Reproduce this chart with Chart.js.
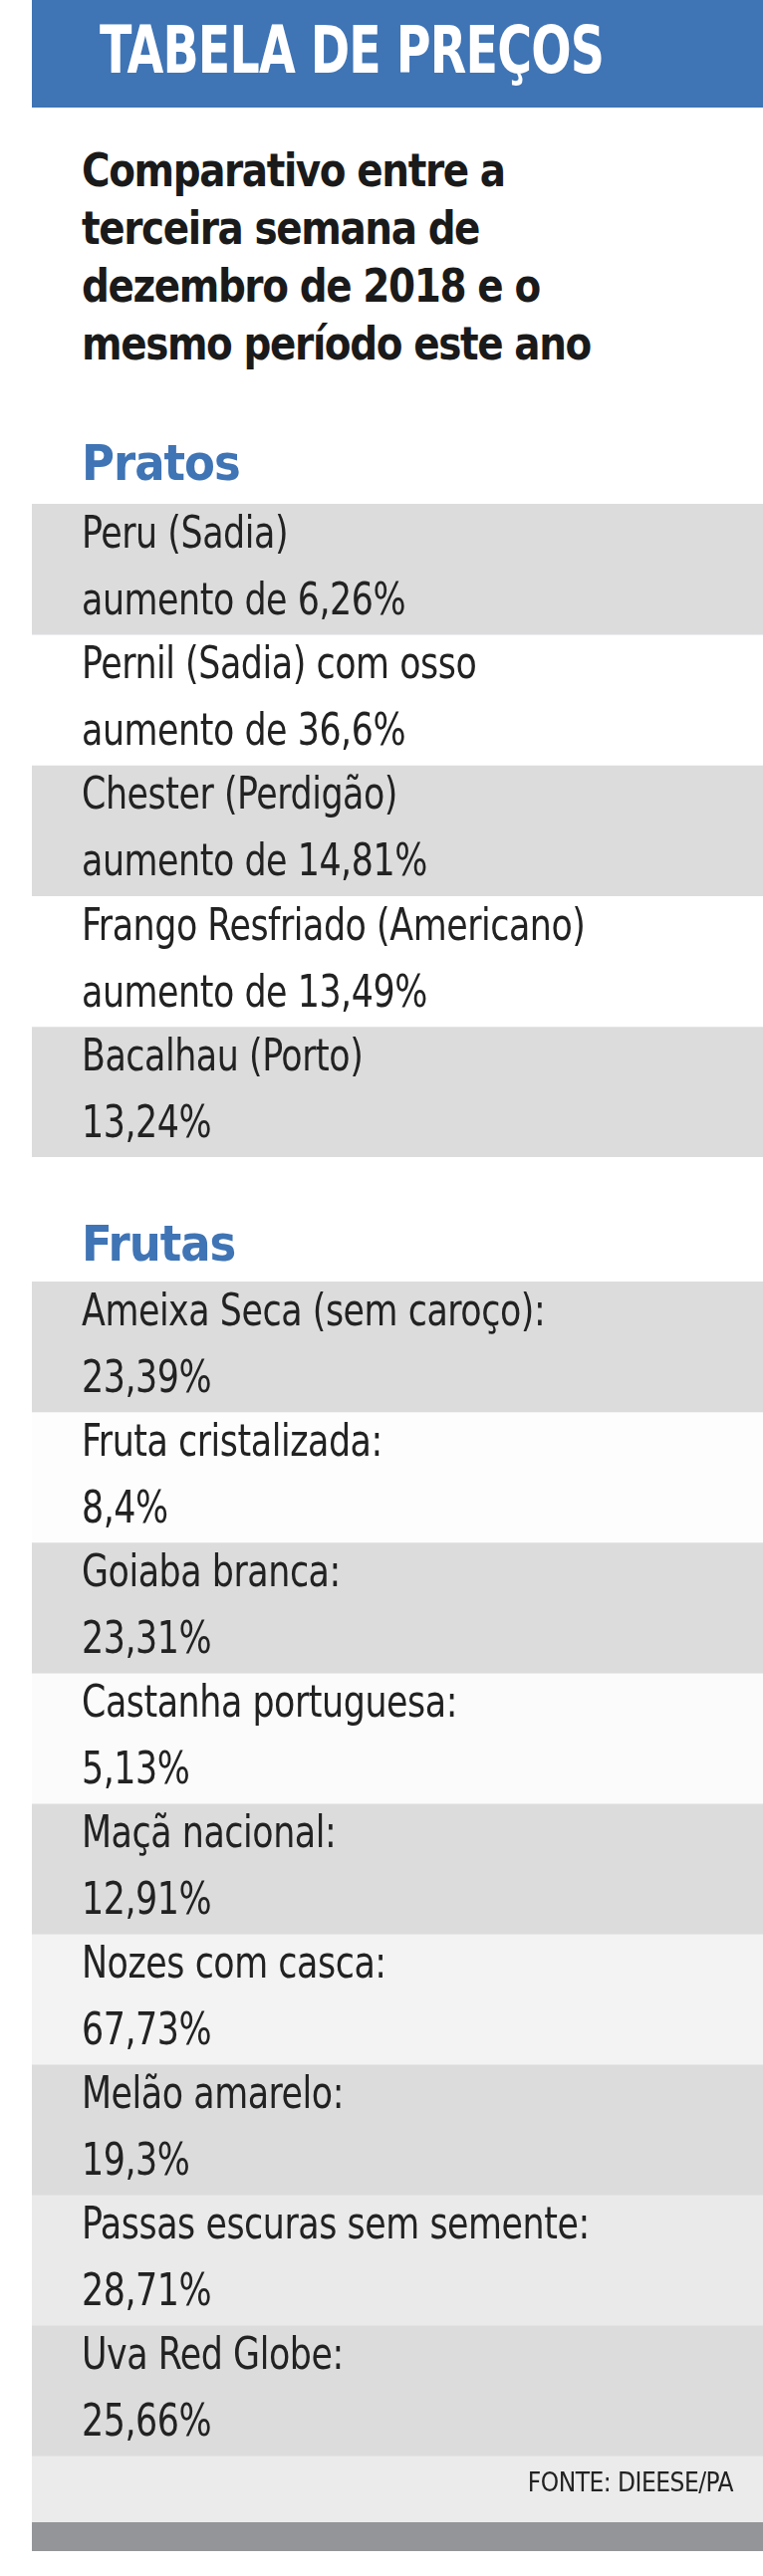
<!DOCTYPE html>
<html>
<head>
<meta charset="utf-8">
<script src="https://cdn.jsdelivr.net/npm/chart.js@4/dist/chart.umd.min.js"></script>
<style>
  body { margin: 0; width: 766px; height: 2587px; background: #fff; position: relative; overflow: hidden; }
  .narrow { font-family: "Liberation Sans Narrow", "DejaVu Sans Condensed", sans-serif; }
  #header { position: absolute; left: 32px; top: 0; width: 734px; height: 108px; background: #3f74b5; }
  #header span { position: absolute; left: 68px; top: 18px; color: #fff; font-weight: bold; font-size: 66px; line-height: 66px;
    white-space: nowrap; transform: scaleX(0.8); transform-origin: left top; letter-spacing: -1px; }
  #subtitle { position: absolute; left: 82px; top: 142px; font-family: "DejaVu Sans Condensed", sans-serif; font-weight: bold;
    font-size: 47px; line-height: 58px; color: #1a1a1a; letter-spacing: -1.5px; white-space: nowrap;
    transform: scaleX(0.92); transform-origin: left top; }
  .section { position: absolute; left: 82px; font-family: "DejaVu Sans Condensed", sans-serif; font-weight: bold; font-size: 50px; color: #3f74b5; letter-spacing: -1px; }
  .wrap { position: absolute; left: 32px; width: 734px; }
  .cell { position: absolute; left: 50px; font-size: 44px; line-height: 67px; color: #222; white-space: nowrap;
    transform: scaleX(0.88); transform-origin: left top; letter-spacing: -0.5px; }
  #fonte { position: absolute; right: 30px; top: 2478px; font-size: 26px; color: #222; letter-spacing: -0.5px; }
  #bar { position: absolute; left: 32px; top: 2533px; width: 734px; height: 29px; background: #939598; }
</style>
</head>
<body>
<div id="header"><span class="narrow">TABELA DE PREÇOS</span></div>
<div id="subtitle">Comparativo entre a<br>terceira semana de<br>dezembro de 2018 e o<br>mesmo período este ano</div>
<div class="section" style="top:436px">Pratos</div>
<div class="wrap" id="wrapPratos" style="top:506px;height:656px"><canvas id="pratos" width="734" height="656"></canvas></div>
<div class="section" style="top:1220px">Frutas</div>
<div class="wrap" id="wrapFrutas" style="top:1287px;height:1246px"><canvas id="frutas" width="734" height="1246"></canvas></div>
<div id="fonte" class="narrow">FONTE: DIEESE/PA</div>
<div id="bar"></div>
<script>
const pratosItems = ["Peru (Sadia)", "Pernil (Sadia) com osso", "Chester (Perdigão)", "Frango Resfriado (Americano)", "Bacalhau (Porto)"];
const pratosValues = ["aumento de 6,26%", "aumento de 36,6%", "aumento de 14,81%", "aumento de 13,49%", "13,24%"];
const pratosColors = ["#dcdcdd", "#ffffff", "#dcdcdd", "#ffffff", "#dcdcdd"];

const frutasItems = ["Ameixa Seca (sem caroço):", "Fruta cristalizada:", "Goiaba branca:", "Castanha portuguesa:",
  "Maçã nacional:", "Nozes com casca:", "Melão amarelo:", "Passas escuras sem semente:", "Uva Red Globe:", ""];
const frutasValues = ["23,39%", "8,4%", "23,31%", "5,13%", "12,91%", "67,73%", "19,3%", "28,71%", "25,66%", ""];
const frutasColors = ["#dcdcdd", "#fdfdfd", "#dcdcdd", "#fbfbfb", "#dcdcdd", "#f3f3f3", "#dcdcdd", "#eaeaeb", "#dcdcdd", "#ebebeb"];
// last frutas row is the short source strip
const frutasWeights = [1, 1, 1, 1, 1, 1, 1, 1, 1, 0.51];

function rowTable(id, items, values, colors, weights) {
  const canvas = document.getElementById(id);
  // one floating bar per row, stacked down the y scale
  const datasets = items.map((_, i) => ({
    data: [[weights.slice(0, i).reduce((a, b) => a + b, 0), weights.slice(0, i + 1).reduce((a, b) => a + b, 0)]],
    backgroundColor: colors[i],
    borderWidth: 0,
    barPercentage: 1,
    categoryPercentage: 1,
  }));
  const total = weights.reduce((a, b) => a + b, 0);
  const chart = new Chart(canvas, {
    type: "bar",
    data: { labels: [""], datasets },
    options: {
      responsive: false,
      animation: false,
      grouped: false,
      layout: { padding: 0 },
      plugins: { legend: { display: false }, tooltip: { enabled: false } },
      scales: {
        x: { display: false, grid: { display: false } },
        y: { display: false, min: 0, max: total, reverse: true },
      },
    },
  });
  const wrap = canvas.parentElement;
  const y = chart.scales.y;
  items.forEach((name, i) => {
    if (!name) return;
    const top = y.getPixelForValue(weights.slice(0, i).reduce((a, b) => a + b, 0));
    const div = document.createElement("div");
    div.className = "cell narrow";
    div.style.top = (top - 5) + "px";
    div.innerHTML = name + "<br>" + values[i];
    wrap.appendChild(div);
  });
}

rowTable("pratos", pratosItems, pratosValues, pratosColors, [1, 1, 1, 1, 1]);
rowTable("frutas", frutasItems, frutasValues, frutasColors, frutasWeights);
</script>
</body>
</html>
